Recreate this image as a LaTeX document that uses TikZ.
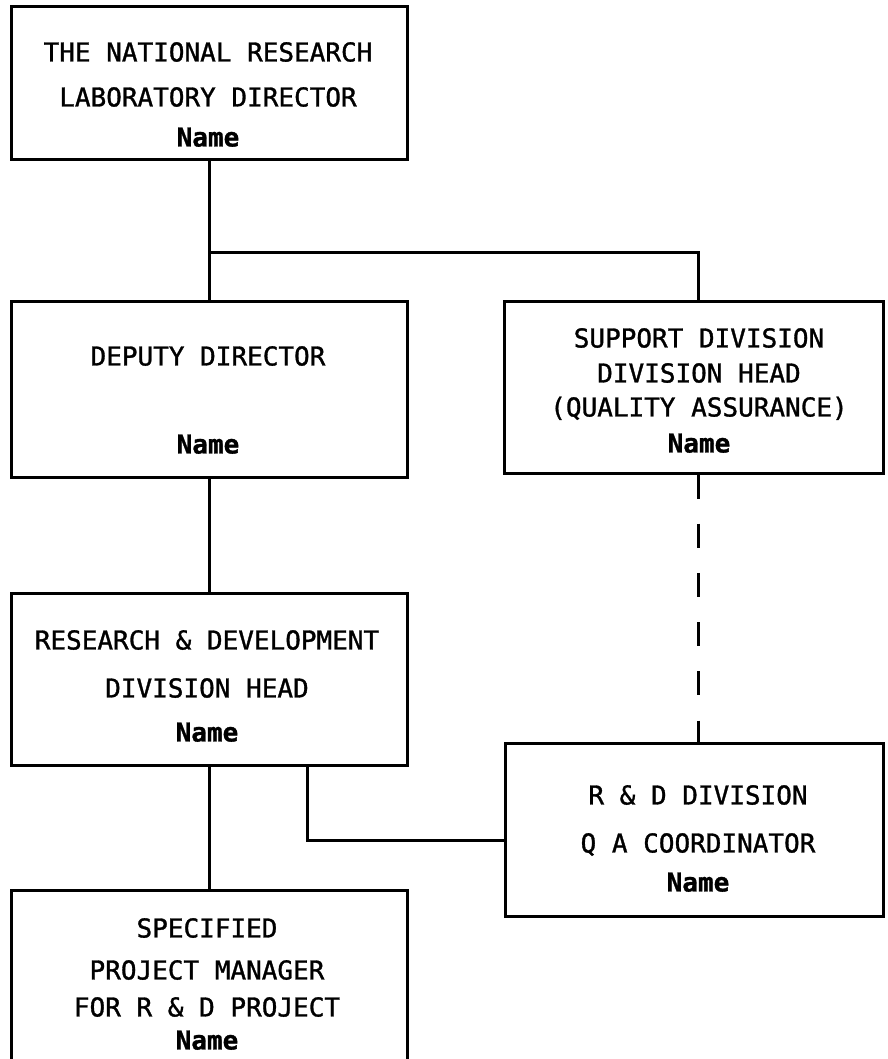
\documentclass[tikz,border=0pt]{standalone}
\usepackage{fontspec}
\setmonofont{DejaVu Sans Mono}[FakeBold=1.2]
\begin{document}
\begin{tikzpicture}[x=1pt, y=-1pt, line width=3pt,
      box/.style={draw, minimum width=396pt, minimum height=#1, inner sep=0pt},
      txt/.style={align=center, inner sep=0pt, font=\ttfamily\fontsize{26pt}{30pt}\selectfont}]
   \clip (0,0) rectangle (887,1059);
   % boxes
   \node[box=153pt] (dir) at (209,83.5) {};
   \node[box=176pt] (dep) at (209,389) {};
   \node[box=172pt, minimum width=379pt] (sup) at (693.5,387) {};
   \node[box=172pt] (rd) at (209,679) {};
   \node[box=173pt, minimum width=378pt] (qa) at (694,829.5) {};
   \node[box=190pt] (pm) at (209,985) {};
   % texts
   \node[txt] (dirtxt) at (208,94.5) {THE NATIONAL RESEARCH\\[15pt]LABORATORY DIRECTOR\\[10pt]\textbf{Name}};
   \node[txt] (deptxt) at (208,400) {DEPUTY DIRECTOR\\[58pt]\textbf{Name}};
   \node[txt] (suptxt) at (699,390.5) {SUPPORT DIVISION\\[5pt]DIVISION HEAD\\[4pt](QUALITY ASSURANCE)\\[6pt]\textbf{Name}};
   \node[txt] (rdtxt) at (207,686) {RESEARCH \& DEVELOPMENT\\[18pt]DIVISION HEAD\\[14pt]\textbf{Name}};
   \node[txt] (qatxt) at (698,838.5) {R \& D DIVISION\\[18pt]Q A COORDINATOR\\[9pt]\textbf{Name}};
   \node[txt] (pmtxt) at (207,984) {SPECIFIED\\[12pt]PROJECT MANAGER\\[7pt]FOR R \& D PROJECT\\[3pt]\textbf{Name}};
   % connectors
   \draw (dir) -- (dep);
   \coordinate (bar) at (209,252);
   \draw (bar) -| ([xshift=5pt]sup.north);
   \draw[dash pattern=on 24pt off 25.2pt] ([xshift=5pt]sup.south) -- ([xshift=5pt]sup.south |- qa.north);
   \draw (dep) -- (rd);
   \draw (rd) -- (pm);
   \coordinate (hook) at (307,840);
   \draw (rd.south -| hook) -- (hook) -- (hook -| qa.west);
\end{tikzpicture}
\end{document}
